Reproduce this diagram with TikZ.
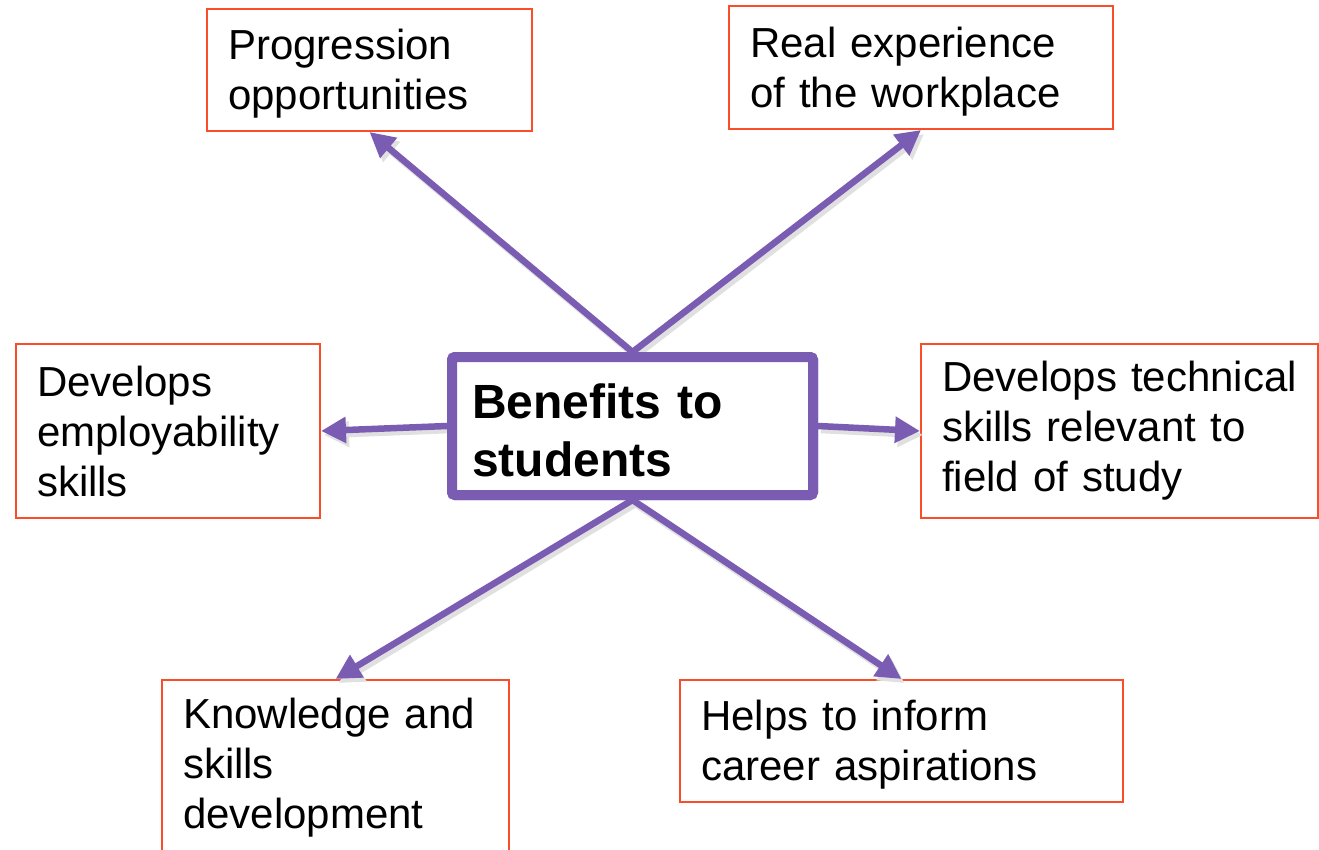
\documentclass[tikz,border=0pt]{standalone}
\usepackage{fontspec}
\setmainfont{Liberation Sans}
\usetikzlibrary{arrows.meta}
\definecolor{arrowpurple}{RGB}{122,92,178}
\definecolor{boxred}{RGB}{250,78,42}
\begin{document}
\begin{tikzpicture}[x=1pt,y=-1pt,
  benefit/.style={draw=boxred, line width=2pt, fill=white, align=left,
    inner xsep=21pt, inner ysep=0pt, font=\fontsize{42}{50}\selectfont,
    anchor=north west},
  twoline/.style={text depth=51pt},
  hub/.style={draw=arrowpurple, line width=10pt, fill=white, rounded corners=3pt,
    align=left, inner xsep=20pt, inner ysep=0pt, text depth=50pt,
    font=\fontsize{48}{58}\selectfont\bfseries, anchor=north west,
    minimum width=361pt, minimum height=138pt, text width=321pt},
  link/.style={draw=arrowpurple, line width=6.5pt,
    -{Triangle[length=25pt,width=25pt]}},
  linkshadow/.style={draw=black!12, line width=6.5pt,
    -{Triangle[length=25pt,width=25pt]}}
]
\useasboundingbox (0,0) rectangle (1319,849);
\fill[white] (0,0) rectangle (1319,849);

\node[benefit, twoline, minimum width=325pt, minimum height=122pt, text width=283pt] (prog) at (206,8)
  {Progression\\opportunities};
\node[benefit, twoline, minimum width=384pt, minimum height=123pt, text width=342pt] (real) at (728,5)
  {Real experience\\of the workplace};
\node[benefit, minimum width=304pt, minimum height=174pt, text width=262pt] (emp) at (15,343)
  {Develops\\employability\\skills};
\node[benefit, minimum width=397pt, minimum height=174pt, text width=355pt] (tech) at (920,343)
  {Develops technical\\skills relevant to\\field of study};
\node[benefit, minimum width=347pt, minimum height=176pt, text width=305pt] (know) at (161,679)
  {Knowledge and\\skills\\development};
\node[benefit, twoline, minimum width=443pt, minimum height=122pt, text width=401pt] (help) at (679,679)
  {Helps to inform\\career aspirations};

\node[hub] (hubbox) at (447,352) {Benefits to\\students};

\foreach \s/\t in {hubbox.north/prog.south, hubbox.north/real.south,
                   hubbox.west/emp.east, hubbox.east/tech.west,
                   hubbox.south/know.north, hubbox.south/help.north}{
  \draw[linkshadow, transform canvas={shift={(3pt,-4pt)}}] (\s) -- (\t);
}
\draw[link] (hubbox.north) -- (prog.south);
\draw[link] (hubbox.north) -- (real.south);
\draw[link] (hubbox.west) -- (emp.east);
\draw[link] (hubbox.east) -- (tech.west);
\draw[link] (hubbox.south) -- (know.north);
\draw[link] (hubbox.south) -- (help.north);

\node[hub] at (447,352) {Benefits to\\students};
\end{tikzpicture}
\end{document}
